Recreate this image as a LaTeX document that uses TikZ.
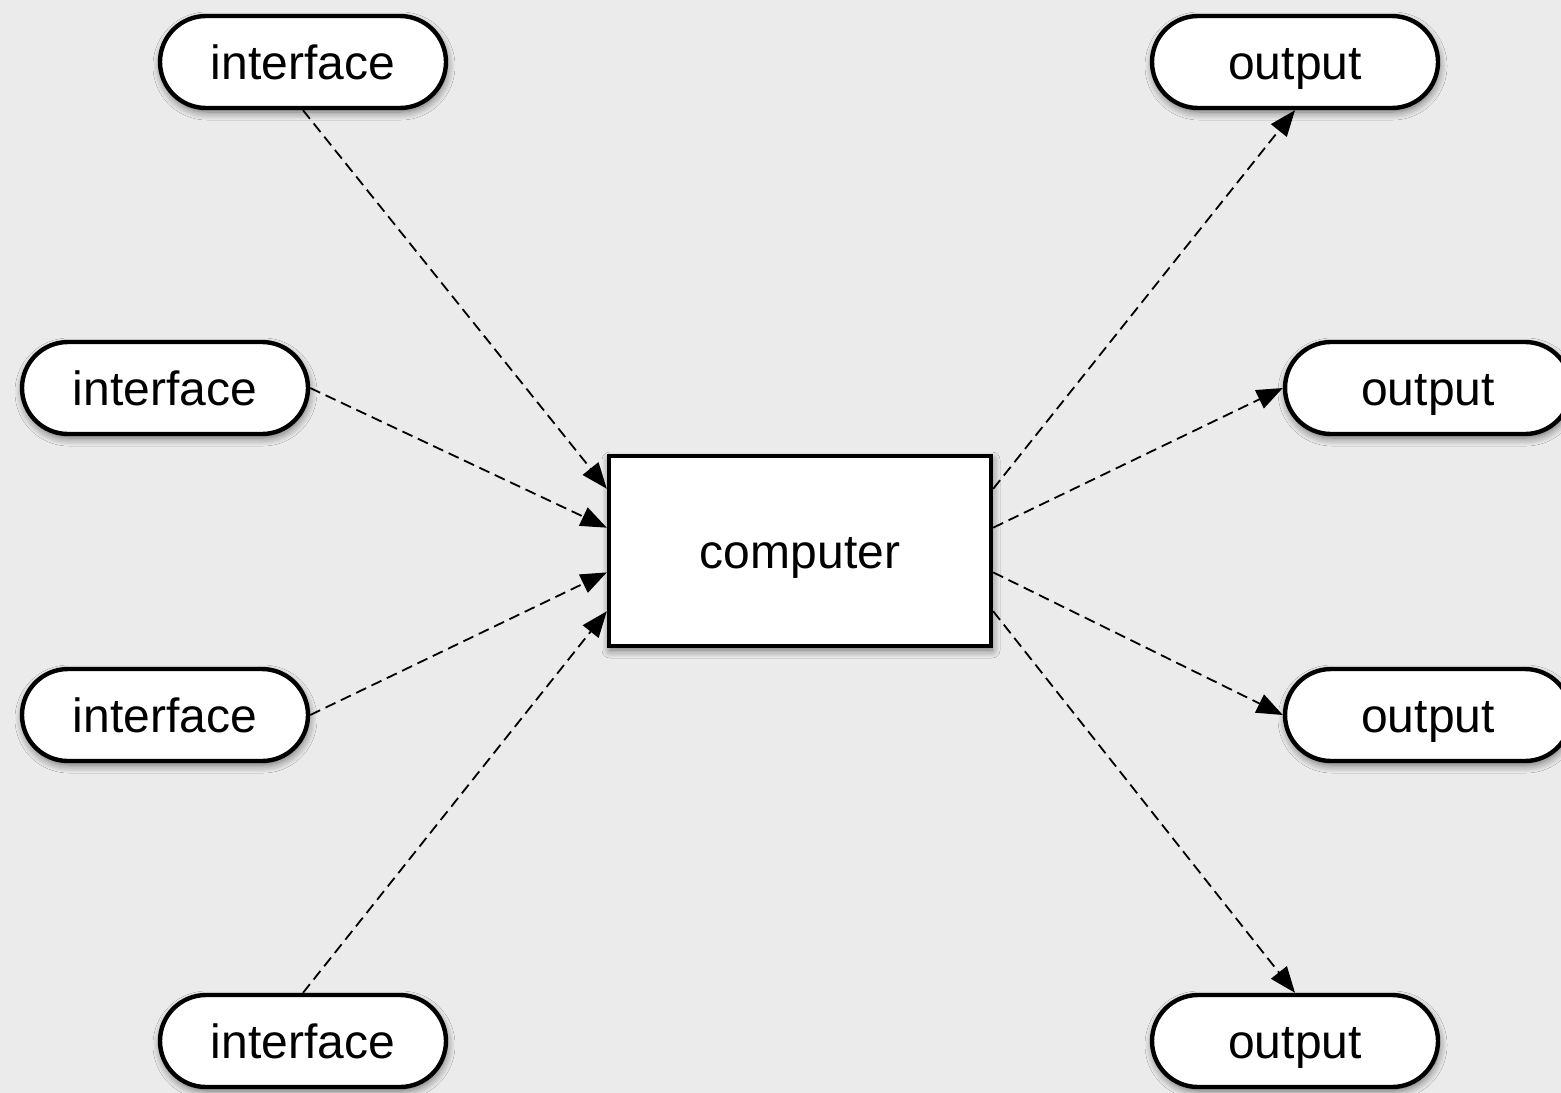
\documentclass[tikz,border=0pt]{standalone}
\usepackage{fontspec}
\setmainfont{Liberation Sans}
\usetikzlibrary{arrows.meta,calc,shadows.blur}
\definecolor{bggray}{HTML}{EBEBEB}
\tikzset{
  myshadow/.style={blur shadow={shadow xshift=0.5pt, shadow yshift=-2pt, shadow blur steps=8, shadow opacity=55, shadow blur radius=4pt}},
  pill/.style={draw=black, line width=2.2pt, fill=white, rounded corners=23pt,
    minimum width=143pt, minimum height=46pt, inner sep=0pt,
    font=\fontsize{24}{28}\selectfont, text height=17.2pt, text depth=0pt,
    myshadow},
  box/.style={draw=black, line width=2.2pt, fill=white,
    minimum width=191pt, minimum height=95pt, inner sep=0pt,
    font=\fontsize{24}{28}\selectfont, text height=17.2pt, text depth=0pt,
    myshadow},
  link/.style={line width=0.9pt, dash pattern=on 5.5pt off 3pt,
    -{Triangle[length=13pt,width=10pt]}}
}
\begin{document}
\begin{tikzpicture}[x=0.5pt,y=-0.5pt]
\useasboundingbox (0,0) rectangle (1561,1092);
\fill[bggray] (-10,-10) rectangle (1571,1102);
\node[box] (c) at (800,551) {computer};
\node[pill] (i1) at (303,62) {interface};
\node[pill] (i2) at (165,388) {interface};
\node[pill] (i3) at (165,715) {interface};
\node[pill] (i4) at (303,1041) {interface};
\node[pill] (o1) at (1295,62) {output};
\node[pill] (o2) at (1428,388) {output};
\node[pill] (o3) at (1428,715) {output};
\node[pill] (o4) at (1295,1041) {output};
\coordinate (cl1) at ($(c.north west)!0.18!(c.south west)$);
\coordinate (cl2) at ($(c.north west)!0.38!(c.south west)$);
\coordinate (cl3) at ($(c.north west)!0.61!(c.south west)$);
\coordinate (cl4) at ($(c.north west)!0.81!(c.south west)$);
\coordinate (cr1) at ($(c.north east)!0.18!(c.south east)$);
\coordinate (cr2) at ($(c.north east)!0.38!(c.south east)$);
\coordinate (cr3) at ($(c.north east)!0.61!(c.south east)$);
\coordinate (cr4) at ($(c.north east)!0.81!(c.south east)$);
\draw[link] (i1.south) -- (cl1);
\draw[link] (i2.east) -- (cl2);
\draw[link] (i3.east) -- (cl3);
\draw[link] (i4.north) -- (cl4);
\draw[link] (cr1) -- (o1.south);
\draw[link] (cr2) -- (o2.west);
\draw[link] (cr3) -- (o3.west);
\draw[link] (cr4) -- (o4.north);
\end{tikzpicture}
\end{document}
